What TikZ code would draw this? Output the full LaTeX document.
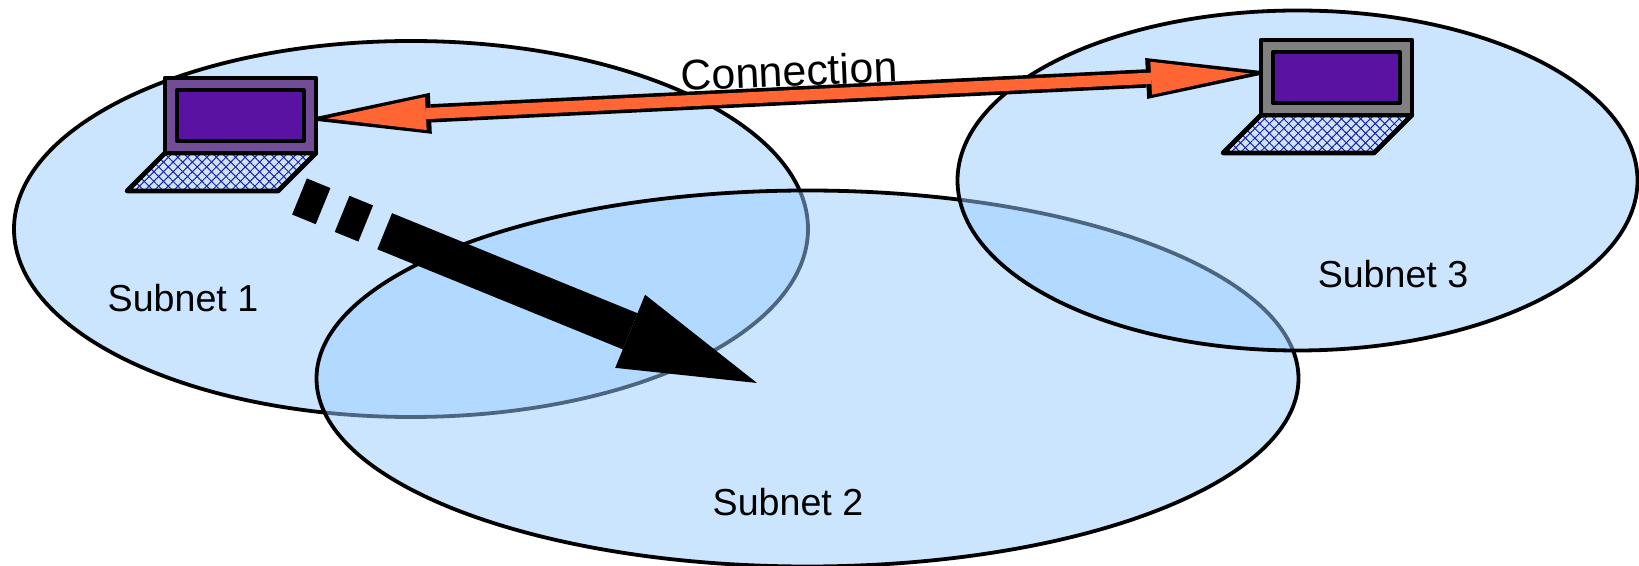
\documentclass[tikz,border=0pt]{standalone}
\usepackage{fontspec}
\setmainfont{Liberation Sans}
\usetikzlibrary{arrows.meta,patterns.meta}
\definecolor{subnetblue}{HTML}{99CCFF}
\definecolor{connorange}{HTML}{FF6633}
\definecolor{screenpurple}{HTML}{5A12A2}
\definecolor{framepurple}{HTML}{724C96}
\definecolor{framegrey}{HTML}{808080}
\definecolor{keysblue}{HTML}{2020A0}
\tikzset{
subnet/.style={draw=black,line width=1.9pt,fill=subnetblue,fill opacity=0.5},
label/.style={font=\fontsize{18.8}{22}\selectfont},
keys/.style={draw=black,line width=2.4pt,line join=round,
  preaction={pattern={Lines[angle=45,distance=3.4pt,line width=0.5pt]},pattern color=keysblue},
  preaction={pattern={Lines[angle=-45,distance=3.4pt,line width=0.5pt]},pattern color=keysblue}},
outerhead/.tip={Triangle[length=63.5pt,width=20.5pt,line width=0pt]},
innerhead/.tip={Triangle[length=49.5pt,width=16.5pt,line width=0pt]}
}
\begin{document}
\begin{tikzpicture}[x=0.5pt,y=-0.5pt]
\useasboundingbox (0,0) rectangle (1639,566);
\coordinate (C1) at (411,229);
\coordinate (C2) at (807.5,378.5);
\coordinate (C3) at (1297.5,180.5);
\coordinate (connL) at (304,119.5);
\coordinate (connR) at (1273,72.3);
\coordinate (moveS) at (299.5,196.5);
\coordinate (moveE) at (757,383);
\draw[subnet] (C1) ellipse [x radius=397,y radius=188];
\draw[subnet] (C2) ellipse [x radius=491,y radius=188];
\draw[subnet] (C3) ellipse [x radius=340,y radius=170];
\node[label] (sub1) at (183,298) {Subnet 1};
\node[label] (sub2) at (788,502) {Subnet 2};
\node[label] (sub3) at (1393,274) {Subnet 3};
\node[font=\fontsize{21.4}{25}\selectfont,rotate=2.5] (conn) at (789,71) {Connection};
\draw[line width=9.2pt,outerhead-outerhead] (connL)--(connR);
\draw[connorange,line width=5.6pt,shorten <=11.5pt,shorten >=11.5pt,innerhead-innerhead] (connL)--(connR);
\foreach \lapx/\lapy/\lapcol in {0/0/framepurple,1096/-38/framegrey}{
\begin{scope}[shift={(\lapx,\lapy)}]
\draw[keys] (165,153)--(127,191)--(278,191)--(316,153)--cycle;
\draw[fill=\lapcol,line width=2.4pt,line join=round] (165,78) rectangle (316,153);
\draw[fill=screenpurple,line width=2pt,line join=round] (177,90) rectangle (303.5,141);
\end{scope}
}
\draw[line width=19.5pt,dash pattern=on 12.75pt off 10.25pt on 12.75pt off 10.25pt on 800pt off 0pt,
-{Triangle[length=68.5pt,width=39.5pt,line width=0pt]}] (moveS)--(moveE);
\end{tikzpicture}
\end{document}
